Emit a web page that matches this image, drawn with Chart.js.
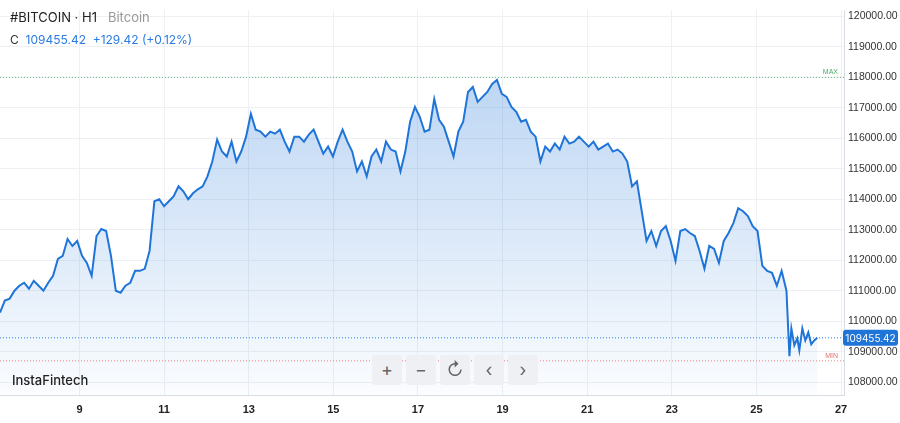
<!DOCTYPE html>
<html><head><meta charset="utf-8">
<script src="https://cdn.jsdelivr.net/npm/chart.js@4/dist/chart.umd.min.js"></script>
<style>
body{margin:0;background:#fff;font-family:Inter,"Noto Sans",sans-serif}
#w{position:relative;width:900px;height:423px}
.t{position:absolute;font-size:13px}
.b{position:absolute;top:355px;width:30px;height:30px;background:#eef0f3;border-radius:3px;color:#666;font-size:18px;text-align:center;line-height:30px}
</style></head><body>
<div id="w"><canvas id="c" width="900" height="423"></canvas>
<div class="t" style="left:10px;top:9px;color:#222">#BITCOIN · H1 &nbsp; <span style="color:#999">Bitcoin</span></div>
<div class="t" style="left:10px;top:32px;font-size:12px;color:#333">C &nbsp;<span style="color:#2a7be4">109455.42 &nbsp;+129.42 (+0.12%)</span></div>
<div class="t" style="left:12px;top:372px;font-size:13px;color:#222;font-weight:500">InstaFintech</div>
<div class="b" style="left:372px">+</div><div class="b" style="left:406px">−</div><div class="b" style="left:440px">↻</div><div class="b" style="left:474px">‹</div><div class="b" style="left:508px">›</div>
</div>
<script>
const startDay = 7.12, mainEndDay = 25.71;
const mainPrices = [110285,110676,110742,111002,111165,111263,111068,111328,111165,111002,111263,111491,112046,112143,112698,112469,112632,112143,111915,111491,112795,113024,112958,112143,111002,110937,111165,111263,111654,111654,111720,112306,113936,114002,113773,113936,114099,114425,114262,114002,114197,114328,114425,114751,115240,115958,115566,115403,115892,115240,115566,116055,116805,116284,116218,116055,116218,116153,116284,115892,115566,116055,116055,115892,116121,116284,115892,115501,115729,115403,115892,116284,115892,115566,114914,115240,114751,115403,115632,115240,115892,115632,115566,114914,115566,116544,117033,116707,116218,116284,117294,116610,116381,115892,115403,116218,116544,117522,117685,117196,117359,117522,117783,117914,117457,117359,117033,116870,116544,116610,116218,116055,115240,115729,115566,115827,115632,116055,115827,115892,116055,115892,115729,115892,115632,115729,115827,115566,115632,115501,115240,114425,114588,113610,112632,112958,112469,112958,113121,112632,111980,112958,113024,112893,112795,112306,111720,112469,112372,111915,112632,112893,113219,113708,113610,113447,113121,112958,111817,111654,111589,111165,111654,111002];
const tailDays = [25.78,25.826,25.896,25.967,26.014,26.085,26.155,26.226,26.296,26.367,26.438];
const tailPrices = [108851,109764,109210,109438,109047,109764,109372,109633,109242,109372,109455];
const dayTicks = [9,11,13,15,17,19,21,23,25,27];
const lastPrice = 109455.42, maxLevel = 118000, minLevel = 108700;

const step = (mainEndDay-startDay)/(mainPrices.length-1);
const pts = mainPrices.map((p,i)=>({x:startDay+i*step,y:p})).concat(tailDays.map((d,i)=>({x:d,y:tailPrices[i]})));
const levels = {id:'lv',afterDatasetsDraw(ch){
  const {ctx,chartArea:a,scales:{y}}=ch;
  const line=(v,col,dash)=>{const py=y.getPixelForValue(v);ctx.save();ctx.strokeStyle=col;ctx.lineWidth=1;ctx.setLineDash(dash);ctx.beginPath();ctx.moveTo(a.left,py);ctx.lineTo(a.right,py);ctx.stroke();ctx.restore();return py;};
  let py=line(maxLevel,'#5cb87a',[1,2]);ctx.fillStyle='#4caf6a';ctx.font='7px sans-serif';ctx.textAlign='right';ctx.fillText('MAX',a.right-6,py-3);
  py=line(minLevel,'#f08080',[1,2]);ctx.fillStyle='#e57373';ctx.fillText('MIN',a.right-6,py-3);
  py=line(lastPrice,'#2a7be4',[1,2]);
  ctx.fillStyle='#1f74d8';ctx.beginPath();ctx.roundRect(a.right-1,py-8,55,16,3);ctx.fill();
  ctx.fillStyle='#fff';ctx.font='10px Inter,sans-serif';ctx.textAlign='center';ctx.textBaseline='middle';ctx.fillText(lastPrice.toFixed(2),a.right+26.5,py+1);
}};
new Chart(document.getElementById('c'),{type:'line',
 data:{datasets:[{data:pts,borderColor:'#1f74d8',borderWidth:2,pointRadius:0,tension:0,fill:'start',
  backgroundColor:(c)=>{const a=c.chart.chartArea;if(!a)return 'rgba(31,116,216,0.2)';const g=c.chart.ctx.createLinearGradient(0,a.top,0,a.bottom);g.addColorStop(0,'rgba(31,116,216,0.35)');g.addColorStop(1,'rgba(31,116,216,0.02)');return g;}}]},
 options:{responsive:false,animation:false,layout:{padding:0},plugins:{legend:{display:false},tooltip:{enabled:false}},
  scales:{
   x:{type:'linear',min:7.12,max:27.07,afterBuildTicks(s){s.ticks=dayTicks.map(v=>({value:v}));},afterFit(s){s.height=28;},
      grid:{color:'#eef0f3',drawTicks:false},border:{color:'#d8dde3'},ticks:{color:'#222',font:{size:11,weight:'bold'},padding:8}},
   y:{position:'right',min:107580,max:120200,afterBuildTicks(s){const t=[];for(let v=108000;v<=120000;v+=1000)t.push({value:v});s.ticks=t;},afterFit(s){s.width=56;},
      grid:{color:'#eef0f3',drawTicks:false},border:{color:'#d8dde3'},ticks:{color:'#333',font:{size:10.5},padding:4,callback:v=>v.toFixed(2)}}
  }},plugins:[levels]});
</script></body></html>
